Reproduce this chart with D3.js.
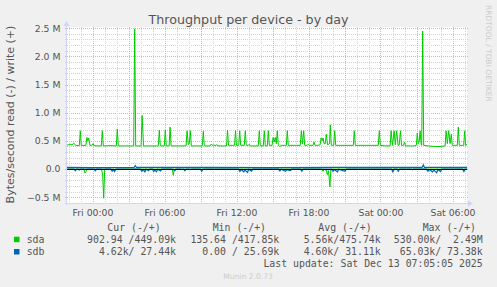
<!DOCTYPE html>
<html>
<head>
<meta charset="utf-8">
<script src="https://cdn.jsdelivr.net/npm/d3@7"></script>
<style>
  body { margin: 0; background: #f0f0f0; }
  svg { display: block; }
  text { font-family: "DejaVu Sans", sans-serif; }
  .mono { font-family: "DejaVu Sans Mono", monospace; white-space: pre; }
</style>
</head>
<body>
<svg id="chart" width="497" height="287"></svg>
<script>
// time = minutes after Fri 12 Dec 2025 00:00, values in M bytes/second
const sdaWrite = [
  [-128, .42], [-113, .44], [-103, .43], [-93, .455], [-83, .42], [-66, .415], [-61, .68], [-56, .415],
  [-48, .42], [-33, .42], [-28, .56], [-23, .50], [-19, .55], [-13, .42], [-3, .42], [3, .45], [8, .415],
  [28, .41], [44, .41], [49, .68], [54, .41], [88, .415], [119, .41], [124, .71], [129, .41],
  [163, .41], [188, .41], [206, .41], [211, 2.49], [216, .41], [243, .41], [248, .95], [255, .41],
  [288, .41], [329, .41], [334, .69], [339, .41], [359, .41], [364, .69], [369, .41],
  [383, .41], [388, .745], [393, .41], [413, .41], [438, .41],
  [468, .41], [473, .68], [479, .43], [484, .45], [489, .68], [494, .41], [523, .41],
  [549, .41], [554, .67], [559, .41], [588, .41], [593, .44], [598, .42], [605, .43], [613, .415], [621, .43], [628, .41],
  [648, .41], [670, .41], [675, .69], [680, .42], [698, .42], [710, .42], [715, .68], [720, .42],
  [731, .42], [736, .68], [741, .42], [759, .42], [764, .68], [769, .42], [779, .42], [784, .44], [789, .41],
  [813, .41], [829, .41], [834, .68], [839, .41], [854, .41], [859, .68], [864, .41], [874, .41], [879, .68], [884, .42],
  [898, .42], [903, .56], [908, .48], [914, .56], [919, .45], [924, .68], [929, .42], [936, .40],
  [948, .42], [963, .42], [969, .42], [974, .68], [979, .42], [1013, .42],
  [1039, .42], [1044, .68], [1050, .45], [1056, .68], [1061, .42], [1073, .42], [1078, .44], [1083, .42],
  [1103, .42], [1108, .48], [1113, .42], [1128, .42],
  [1138, .43], [1143, .55], [1148, .50], [1153, .55], [1158, .45], [1164, .45], [1169, .62], [1175, .43],
  [1185, .45], [1189, .785], [1194, .42],
  [1206, .42], [1211, .68], [1216, .42], [1238, .42], [1278, .42], [1304, .42], [1309, .68], [1314, .42],
  [1363, .42], [1398, .42], [1429, .42], [1434, .68], [1439, .42], [1463, .41],
  [1488, .41], [1493, .68], [1500, .42], [1508, .68], [1514, .43], [1521, .68], [1528, .42], [1533, .42],
  [1540, .68], [1545, .42], [1555, .42], [1560, .48], [1565, .41],
  [1588, .41], [1608, .41], [1619, .42], [1624, .64], [1629, .45], [1634, .5], [1638, .68], [1643, .45],
  [1646, .42], [1651, 2.45], [1656, .42],
  [1678, .41], [1713, .40], [1738, .40],
  [1763, .41], [1768, .68], [1774, .45], [1781, .68], [1788, .45], [1794, .62], [1799, .42], [1813, .42],
  [1824, .42], [1829, .745], [1834, .42], [1848, .42], [1856, .42], [1861, .68], [1866, .42], [1873, .44]
];
const sdaRead = [
  [-128, .001], [-71, .001], [-66, .03], [-61, .001], [-43, .001], [-38, .07], [-33, .05], [-28, .001],
  [45, .001], [51, .12], [56, .52], [61, .001], [109, .001], [114, .03], [119, .001],
  [399, .001], [404, .11], [409, .001], [441, .001], [446, .02], [451, .001], [483, .001], [488, .02], [493, .001],
  [1145, .001], [1152, .04], [1159, .01], [1169, .02], [1174, .1], [1180, .03], [1187, .32], [1192, .001],
  [1594, .001], [1599, .015], [1604, .001], [1873, .001]
];
const sdbWrite = [
  [-128, .028], [0, .026], [208, .027], [214, .06], [220, .027], [600, .03], [900, .026],
  [1200, .028], [1648, .027], [1654, .073], [1660, .027], [1873, .027]
];
const sdbRead = [
  [-128, .004], [-92, .004], [-86, .03], [-80, .004],
  [8, .004], [14, .03], [20, .004],
  [92, .004], [98, .04], [104, .01], [110, .045], [116, .004],
  [240, .004], [247, .04], [253, .01], [262, .05], [268, .004], [280, .03], [286, .004],
  [300, .004], [306, .045], [312, .02], [320, .05], [326, .004], [340, .035], [347, .004],
  [405, .004], [412, .03], [418, .004], [456, .004], [462, .03], [468, .004], [540, .004], [546, .04], [552, .004],
  [730, .004], [737, .045], [744, .01], [756, .05], [762, .02], [775, .06], [781, .004], [795, .04], [802, .004],
  [930, .004], [937, .035], [943, .004], [965, .04], [971, .01], [990, .03], [996, .004],
  [1040, .004], [1047, .04], [1053, .004],
  [1195, .004], [1202, .04], [1208, .01], [1225, .05], [1231, .004], [1262, .04], [1270, .004],
  [1495, .004], [1502, .05], [1508, .004], [1523, .004], [1529, .04], [1535, .004],
  [1670, .004], [1677, .04], [1684, .01], [1700, .05], [1706, .02], [1721, .065], [1727, .01], [1740, .045], [1747, .004],
  [1850, .004], [1857, .045], [1863, .004], [1873, .004]
];
const yTicks = [-0.5, 0, 0.5, 1.0, 1.5, 2.0, 2.5];
const devices = ["sda", "sdb"];
const deviceColors = ["#00cc00", "#0066b3"];
const legendHeaders = ["Cur (-/+)", "Min (-/+)", "Avg (-/+)", "Max (-/+)"];
const legendValues = [
  ["902.94 /449.09k", "135.64 /417.85k", "5.56k/475.74k", "530.00k/  2.49M"],
  ["4.62k/ 27.44k", "0.00 / 25.69k", "4.60k/ 31.11k", "65.03k/ 73.38k"]
];
const title = "Throughput per device - by day";
const yLabel = "Bytes/second read (-) / write (+)";
const lastUpdate = "Last update: Sat Dec 13 07:05:05 2025";

const svg = d3.select("#chart");
const W = 497, H = 287;
const plot = {left: 67, right: 467, top: 27, bottom: 203};
const origin = new Date(2025, 11, 12, 0, 0, 0);
const t = m => new Date(origin.getTime() + m * 60000);

const x = d3.scaleTime().domain([t(-127.5), t(1872.5)]).range([plot.left, plot.right]);
const y = d3.scaleLinear().domain([-0.604, 2.522]).range([plot.bottom, plot.top]);
const crisp = v => Math.round(v) + 0.5;

svg.append("rect").attr("width", W).attr("height", H).attr("fill", "#f0f0f0");
svg.append("rect")
  .attr("x", plot.left).attr("y", plot.top)
  .attr("width", plot.right - plot.left).attr("height", plot.bottom - plot.top)
  .attr("fill", "#ffffff");

// grid
const grid = svg.append("g").attr("shape-rendering", "crispEdges");
const hLines = d3.range(-6, 26);
grid.selectAll(".hg").data(hLines).enter().append("line")
  .attr("x1", plot.left - 2).attr("x2", plot.right + 2)
  .attr("y1", d => crisp(y(d / 10))).attr("y2", d => crisp(y(d / 10)))
  .attr("stroke", d => d % 5 === 0 ? "#eeaaaa" : "#d4d4d4")
  .attr("stroke-dasharray", "1,1");
const hours = d3.timeHour.range(x.domain()[0], x.domain()[1]);
grid.selectAll(".vg").data(hours).enter().append("line")
  .attr("x1", d => crisp(x(d))).attr("x2", d => crisp(x(d)))
  .attr("y1", plot.top).attr("y2", plot.bottom + 2)
  .attr("stroke", d => d.getHours() % 3 === 0 ? "#eeaaaa" : "#d4d4d4")
  .attr("stroke-dasharray", "1,1");

// series
const lineUp = d3.line().x(d => x(t(d[0]))).y(d => y(d[1]));
const lineDown = d3.line().x(d => x(t(d[0]))).y(d => y(-d[1]));

svg.append("path").datum(sdaWrite).attr("d", lineUp)
  .attr("fill", "none").attr("stroke", deviceColors[0]).attr("stroke-width", 1);
svg.append("path").datum(sdaRead).attr("d", lineDown)
  .attr("fill", "none").attr("stroke", deviceColors[0]).attr("stroke-width", 1);
svg.append("path").datum(sdbWrite).attr("d", lineUp)
  .attr("fill", "none").attr("stroke", deviceColors[1]).attr("stroke-width", 1.2);
svg.append("path").datum(sdbRead).attr("d", lineDown)
  .attr("fill", "none").attr("stroke", deviceColors[1]).attr("stroke-width", 1.2);

// zero rule
svg.append("line")
  .attr("x1", plot.left).attr("x2", plot.right)
  .attr("y1", crisp(y(0))).attr("y2", crisp(y(0)))
  .attr("stroke", "#000").attr("shape-rendering", "crispEdges");

// axes lines + arrows
const axisColor = "#cfd6f8";
svg.append("line")
  .attr("x1", plot.left - 2).attr("x2", plot.right + 3)
  .attr("y1", plot.bottom + 0.5).attr("y2", plot.bottom + 0.5)
  .attr("stroke", axisColor).attr("stroke-width", 1.2);
svg.append("line")
  .attr("x1", plot.left - 0.5).attr("x2", plot.left - 0.5)
  .attr("y1", plot.bottom + 2).attr("y2", plot.top - 3)
  .attr("stroke", axisColor).attr("stroke-width", 1.2);
svg.append("path")
  .attr("d", `M${plot.right + 1},${plot.bottom - 2.7}L${plot.right + 6},${plot.bottom + 0.5}L${plot.right + 1},${plot.bottom + 3.7}Z`)
  .attr("fill", axisColor);
svg.append("path")
  .attr("d", `M${plot.left - 3.7},${plot.top - 1}L${plot.left - 0.5},${plot.top - 6}L${plot.left + 2.7},${plot.top - 1}Z`)
  .attr("fill", axisColor);

// axis labels
const xAxis = svg.append("g").attr("transform", `translate(0,${plot.bottom})`)
  .call(d3.axisBottom(x).ticks(d3.timeHour.every(6)).tickFormat(d3.timeFormat("%a %H:%M")).tickSize(0));
xAxis.select(".domain").remove();
xAxis.selectAll("text")
  .attr("y", 13).attr("dy", null)
  .attr("font-family", "DejaVu Sans").attr("font-size", 9.3).attr("fill", "#555");

const yAxis = svg.append("g").attr("transform", "translate(60.5,0)")
  .call(d3.axisLeft(y).tickValues(yTicks).tickSize(0).tickPadding(0)
    .tickFormat(v => v === 0 ? "0.0" : d3.format(".1f")(v) + " M"));
yAxis.select(".domain").remove();
yAxis.selectAll("text")
  .attr("font-family", "DejaVu Sans").attr("font-size", 9.3).attr("fill", "#555");

// title & labels
svg.append("text").attr("x", 248.5).attr("y", 23.6).attr("text-anchor", "middle")
  .attr("font-size", 12.7).attr("fill", "#555").text(title);
svg.append("text").attr("transform", "translate(14,114.5) rotate(-90)")
  .attr("text-anchor", "middle").attr("font-size", 11).attr("fill", "#555").text(yLabel);
svg.append("text").attr("transform", "translate(485.5,5) rotate(90)")
  .attr("font-size", 7.5).attr("fill", "#cccccc").text("RRDTOOL / TOBI OETIKER");

// legend
const headerX = [107.3, 212.7, 318.3, 422.7];
const valueRight = [176, 279.3, 380.7, 482.7];
const legend = svg.append("g").attr("fill", "#555").attr("font-size", 9.85);
legend.selectAll(".hd").data(legendHeaders).enter().append("text")
  .attr("class", "mono").attr("x", (d, i) => headerX[i]).attr("y", 231).text(d => d);
devices.forEach((dev, r) => {
  const yy = 243 + r * 12.3;
  legend.append("rect").attr("x", 14).attr("y", yy - 6.3).attr("width", 5.5).attr("height", 5.5)
    .attr("fill", deviceColors[r]);
  legend.append("text").attr("class", "mono").attr("x", 26.7).attr("y", yy).text(dev);
  legend.selectAll(".v" + r).data(legendValues[r]).enter().append("text")
    .attr("class", "mono").attr("x", (d, i) => valueRight[i]).attr("y", yy)
    .attr("text-anchor", "end").text(d => d);
});
legend.append("text").attr("class", "mono").attr("x", 482.7).attr("y", 267)
  .attr("text-anchor", "end").text(lastUpdate);
svg.append("text").attr("x", 248).attr("y", 279).attr("text-anchor", "middle")
  .attr("font-size", 7.6).attr("fill", "#cccccc").text("Munin 2.0.73");
</script>
</body>
</html>
